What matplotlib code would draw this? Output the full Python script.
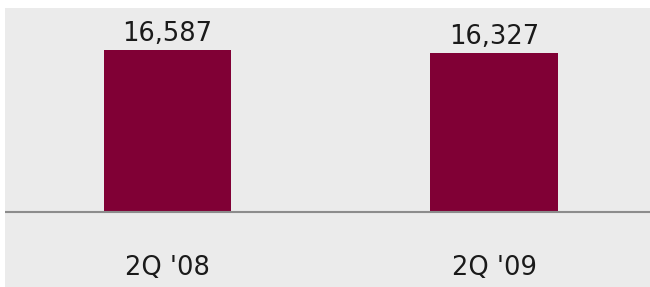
import matplotlib
matplotlib.use("Agg")
import matplotlib.pyplot as plt

categories = ["2Q '08", "2Q '09"]
values = [16587, 16327]
value_labels = ["16,587", "16,327"]

BAR_COLOR = "#800035"
BG_COLOR = "#ebebeb"

fig = plt.figure(figsize=(6.5, 2.87), dpi=100)
fig.patch.set_facecolor("white")
# gray panel starts a few pixels in from the left/top edge
ax = fig.add_axes([5 / 650, 0, 645 / 650, 279 / 287])
ax.set_facecolor(BG_COLOR)

x = range(len(categories))
ax.bar(x, values, width=0.39, color=BAR_COLOR, zorder=2)

# y scale: bar of 16,587 is ~162 px tall, baseline 75 px above the bottom
k = values[0] / 162
ax.set_ylim(-75 * k, 204 * k)
ax.set_xlim(-0.498, 1.478)
ax.axhline(0, color="#8c8c8c", lw=1.5, zorder=3)

for xi, v, lab in zip(x, values, value_labels):
    ax.text(xi, v + 3 * k, lab, ha="center", va="bottom",
            fontsize=18.5, color="#1a1a1a")
    ax.text(xi, -56 * k, categories[xi], ha="center", va="center",
            fontsize=18.5, color="#1a1a1a")

for s in ax.spines.values():
    s.set_visible(False)
ax.set_xticks([])
ax.set_yticks([])

fig.savefig("out.png", dpi=100, facecolor=fig.get_facecolor())
